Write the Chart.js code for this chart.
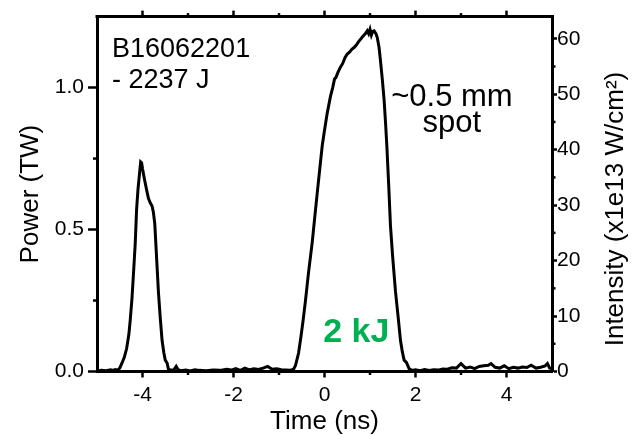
<!DOCTYPE html>
<html>
<head>
<meta charset="utf-8">
<script src="https://cdn.jsdelivr.net/npm/chart.js@4"></script>
<style>
  body { margin: 0; background: #fff; }
  #wrap { width: 633px; height: 435px; }
</style>
</head>
<body>
<div id="wrap"><canvas id="myChart" width="633" height="435"></canvas></div>
<script>
// pulse shape (time in ns, power in TW)
var timeNs = [
  -5.0, -4.9, -4.8, -4.7, -4.65, -4.6, -4.55, -4.5, -4.45, -4.4, -4.35, -4.3, -4.27, -4.23, -4.2, -4.16,
  -4.13, -4.1, -4.07, -4.04, -4.02, -4.0, -3.96, -3.91, -3.87, -3.83, -3.79, -3.76, -3.73, -3.7, -3.67,
  -3.65, -3.61, -3.57, -3.53, -3.5, -3.46, -3.43, -3.38, -3.32, -3.26, -3.22, -3.15, -3.05, -2.95, -2.85,
  -2.75, -2.6, -2.45, -2.3, -2.15, -2.05, -1.95, -1.85, -1.75, -1.65, -1.55, -1.45, -1.35, -1.25, -1.15,
  -1.05, -0.95, -0.85, -0.75, -0.68, -0.64, -0.6, -0.57, -0.52, -0.47, -0.42, -0.35, -0.27, -0.21, -0.16,
  -0.1, -0.05, 0.0, 0.06, 0.13, 0.18, 0.22, 0.25, 0.3, 0.35, 0.4, 0.45, 0.5, 0.55, 0.6, 0.65, 0.7, 0.75,
  0.79, 0.84, 0.9, 0.94, 0.97, 1.0, 1.03, 1.06, 1.09, 1.13, 1.16, 1.2, 1.23, 1.27, 1.31, 1.34, 1.37,
  1.41, 1.45, 1.5, 1.56, 1.62, 1.67, 1.71, 1.75, 1.8, 1.86, 1.92, 2.0, 2.1, 2.2, 2.3, 2.4, 2.5, 2.6,
  2.7, 2.8, 2.9, 3.0, 3.05, 3.1, 3.2, 3.3, 3.4, 3.5, 3.6, 3.66, 3.75, 3.85, 3.95, 4.05, 4.15, 4.25,
  4.35, 4.45, 4.54, 4.65, 4.75, 4.85, 4.9, 4.95, 5.0
];
var powerTW = [
  0.002, 0.004, 0.003, 0.006, 0.004, 0.007, 0.005, 0.012, 0.03, 0.05, 0.08, 0.13, 0.18, 0.26, 0.34, 0.45,
  0.57, 0.64, 0.69, 0.738, 0.735, 0.715, 0.68, 0.64, 0.61, 0.594, 0.583, 0.56, 0.52, 0.43, 0.34,
  0.28, 0.19, 0.11, 0.065, 0.04, 0.03, 0.008, 0.005, 0.004, 0.018, 0.006, 0.003, 0.005, 0.002, 0.006,
  0.004, 0.003, 0.005, 0.004, 0.008, 0.005, 0.01, 0.004, 0.012, 0.006, 0.01, 0.007, 0.012, 0.018, 0.008,
  0.01, 0.006, 0.005, 0.004, 0.008, 0.02, 0.045, 0.065, 0.12, 0.18, 0.247, 0.35, 0.455, 0.55, 0.628,
  0.72, 0.795, 0.85, 0.91, 0.968, 1.0, 1.03, 1.035, 1.055, 1.072, 1.085, 1.105, 1.118, 1.125, 1.135, 1.141, 1.15, 1.162,
  1.17, 1.18, 1.19, 1.2, 1.19, 1.205, 1.185, 1.198, 1.2, 1.19, 1.176, 1.14, 1.095, 1.03, 0.957, 0.88, 0.795,
  0.66, 0.513, 0.4, 0.282, 0.19, 0.109, 0.07, 0.04, 0.032, 0.01, 0.004, 0.006, 0.003, 0.007, 0.004, 0.006, 0.005, 0.009,
  0.008, 0.013, 0.012, 0.028, 0.02, 0.012, 0.016, 0.01, 0.018, 0.02, 0.022, 0.028, 0.015, 0.012, 0.02, 0.01, 0.015, 0.012,
  0.016, 0.014, 0.022, 0.012, 0.015, 0.02, 0.028, 0.012, 0.01
];

var xMajor = [-4, -2, 0, 2, 4];
var xMinor = [-3, -1, 1, 3];
var powerMajor = [0, 0.5, 1.0];
var powerMinor = [0.25, 0.75];
var intensityMajor = [0, 10, 20, 30, 40, 50, 60];
var intensityMinor = [5, 15, 25, 35, 45, 55];

var timeRange = [-5, 5];
var powerMax = 1.25;
var intensityMax = 64; // same top as 1.25 TW for a 0.5 mm spot

var FONT = "'Liberation Sans', Arial, Helvetica, sans-serif";

// text notes, placed in data coordinates
var notes = [
  { lines: ['B16062201', '- 2237 J'], x: -4.67, y: 1.107, lineGap: 0.11, size: 27, weight: 'normal', color: '#000', align: 'left' },
  { lines: ['~0.5 mm', 'spot'], x: 2.8, y: 0.934, lineGap: 0.092, size: 31, weight: 'normal', color: '#000', align: 'center' },
  { lines: ['2 kJ'], x: 0.7, y: 0.103, lineGap: 0, size: 34, weight: 'bold', color: '#00b050', align: 'center' }
];

var points = timeNs.map(function (t, i) { return { x: t, y: powerTW[i] }; });

function setTicks(values) {
  return function (scale) {
    scale.ticks = values.map(function (v) { return { value: v }; });
  };
}

var extras = {
  id: 'extras',
  afterDraw: function (chart) {
    var ctx = chart.ctx, a = chart.chartArea;
    var x = chart.scales.x, y = chart.scales.y, y2 = chart.scales.y2;
    ctx.save();
    ctx.strokeStyle = '#000';
    ctx.lineCap = 'butt';

    // top frame line
    ctx.lineWidth = 3;
    ctx.beginPath();
    ctx.moveTo(a.left - 1.5, a.top);
    ctx.lineTo(a.right + 1.5, a.top);
    ctx.stroke();

    function tick(x1, y1, x2, y2p) {
      ctx.beginPath();
      ctx.moveTo(x1, y1);
      ctx.lineTo(x2, y2p);
      ctx.stroke();
    }
    ctx.lineWidth = 2.5;
    // top ticks, pointing out
    xMajor.forEach(function (v) { var p = x.getPixelForValue(v); tick(p, a.top, p, a.top - 6); });
    xMinor.forEach(function (v) { var p = x.getPixelForValue(v); tick(p, a.top, p, a.top - 3.5); });
    // minor ticks on the other three sides
    xMinor.forEach(function (v) { var p = x.getPixelForValue(v); tick(p, a.bottom, p, a.bottom + 3.5); });
    powerMinor.forEach(function (v) { var p = y.getPixelForValue(v); tick(a.left, p, a.left - 4, p); });
    intensityMinor.forEach(function (v) { var p = y2.getPixelForValue(v); tick(a.right, p, a.right + 3.5, p); });

    // right axis title, reads bottom to top
    ctx.fillStyle = '#000';
    ctx.font = '26px ' + FONT;
    ctx.textAlign = 'center';
    ctx.textBaseline = 'middle';
    ctx.translate(y2.right - 17, (a.top + a.bottom) / 2 + 15);
    ctx.rotate(-Math.PI / 2);
    ctx.fillText('Intensity (x1e13 W/cm\u00b2)', 0, 0);
    ctx.setTransform(1, 0, 0, 1, 0, 0);

    // notes
    notes.forEach(function (n) {
      ctx.font = n.weight + ' ' + n.size + 'px ' + FONT;
      ctx.fillStyle = n.color;
      ctx.textAlign = n.align;
      ctx.textBaseline = 'alphabetic';
      n.lines.forEach(function (line, i) {
        ctx.fillText(line, x.getPixelForValue(n.x), y.getPixelForValue(n.y - i * n.lineGap));
      });
    });
    ctx.restore();
  }
};

var tickFont = { family: FONT, size: 21 };
var titleFont = { family: FONT, size: 26, lineHeight: 1 };

new Chart(document.getElementById('myChart'), {
  type: 'line',
  data: {
    datasets: [{
      label: 'Power',
      data: points,
      borderColor: '#000',
      borderWidth: 3,
      pointRadius: 0,
      tension: 0,
      fill: false,
      yAxisID: 'y'
    }]
  },
  options: {
    responsive: false,
    animation: false,
    layout: { padding: { top: 11, left: 0, right: 0, bottom: 0 } },
    plugins: { legend: { display: false }, tooltip: { enabled: false } },
    scales: {
      x: {
        type: 'linear',
        position: 'bottom',
        min: timeRange[0],
        max: timeRange[1],
        afterBuildTicks: setTicks(xMajor),
        afterFit: function (s) { s.height = 63.5; },
        grid: { display: true, drawOnChartArea: false, drawTicks: true, tickLength: 6, tickWidth: 2.5, tickColor: '#000' },
        border: { display: true, width: 3, color: '#000' },
        ticks: { color: '#000', font: tickFont, padding: 5, maxRotation: 0, callback: function (v) { return String(v); } },
        title: { display: true, text: 'Time (ns)', color: '#000', font: titleFont, padding: { top: 0, bottom: 0 } }
      },
      y: {
        type: 'linear',
        position: 'left',
        min: 0,
        max: powerMax,
        afterBuildTicks: setTicks(powerMajor),
        afterFit: function (s) { s.width = 97; },
        grid: { display: true, drawOnChartArea: false, drawTicks: true, tickLength: 9, tickWidth: 2.5, tickColor: '#000' },
        border: { display: true, width: 3, color: '#000' },
        ticks: { color: '#000', font: tickFont, padding: 4, callback: function (v) { return v.toFixed(1); } },
        title: { display: true, text: 'Power (TW)', color: '#000', font: { family: FONT, size: 26 }, padding: { top: 15, bottom: 0 } }
      },
      y2: {
        type: 'linear',
        position: 'right',
        min: 0,
        max: intensityMax,
        afterBuildTicks: setTicks(intensityMajor),
        afterFit: function (s) { s.width = 81; },
        grid: { display: true, drawOnChartArea: false, drawTicks: true, tickLength: 5, tickWidth: 2.5, tickColor: '#000' },
        border: { display: true, width: 3, color: '#000' },
        ticks: { color: '#000', font: tickFont, padding: 0, callback: function (v) { return String(v); } }
      }
    }
  },
  plugins: [extras]
});
</script>
</body>
</html>
